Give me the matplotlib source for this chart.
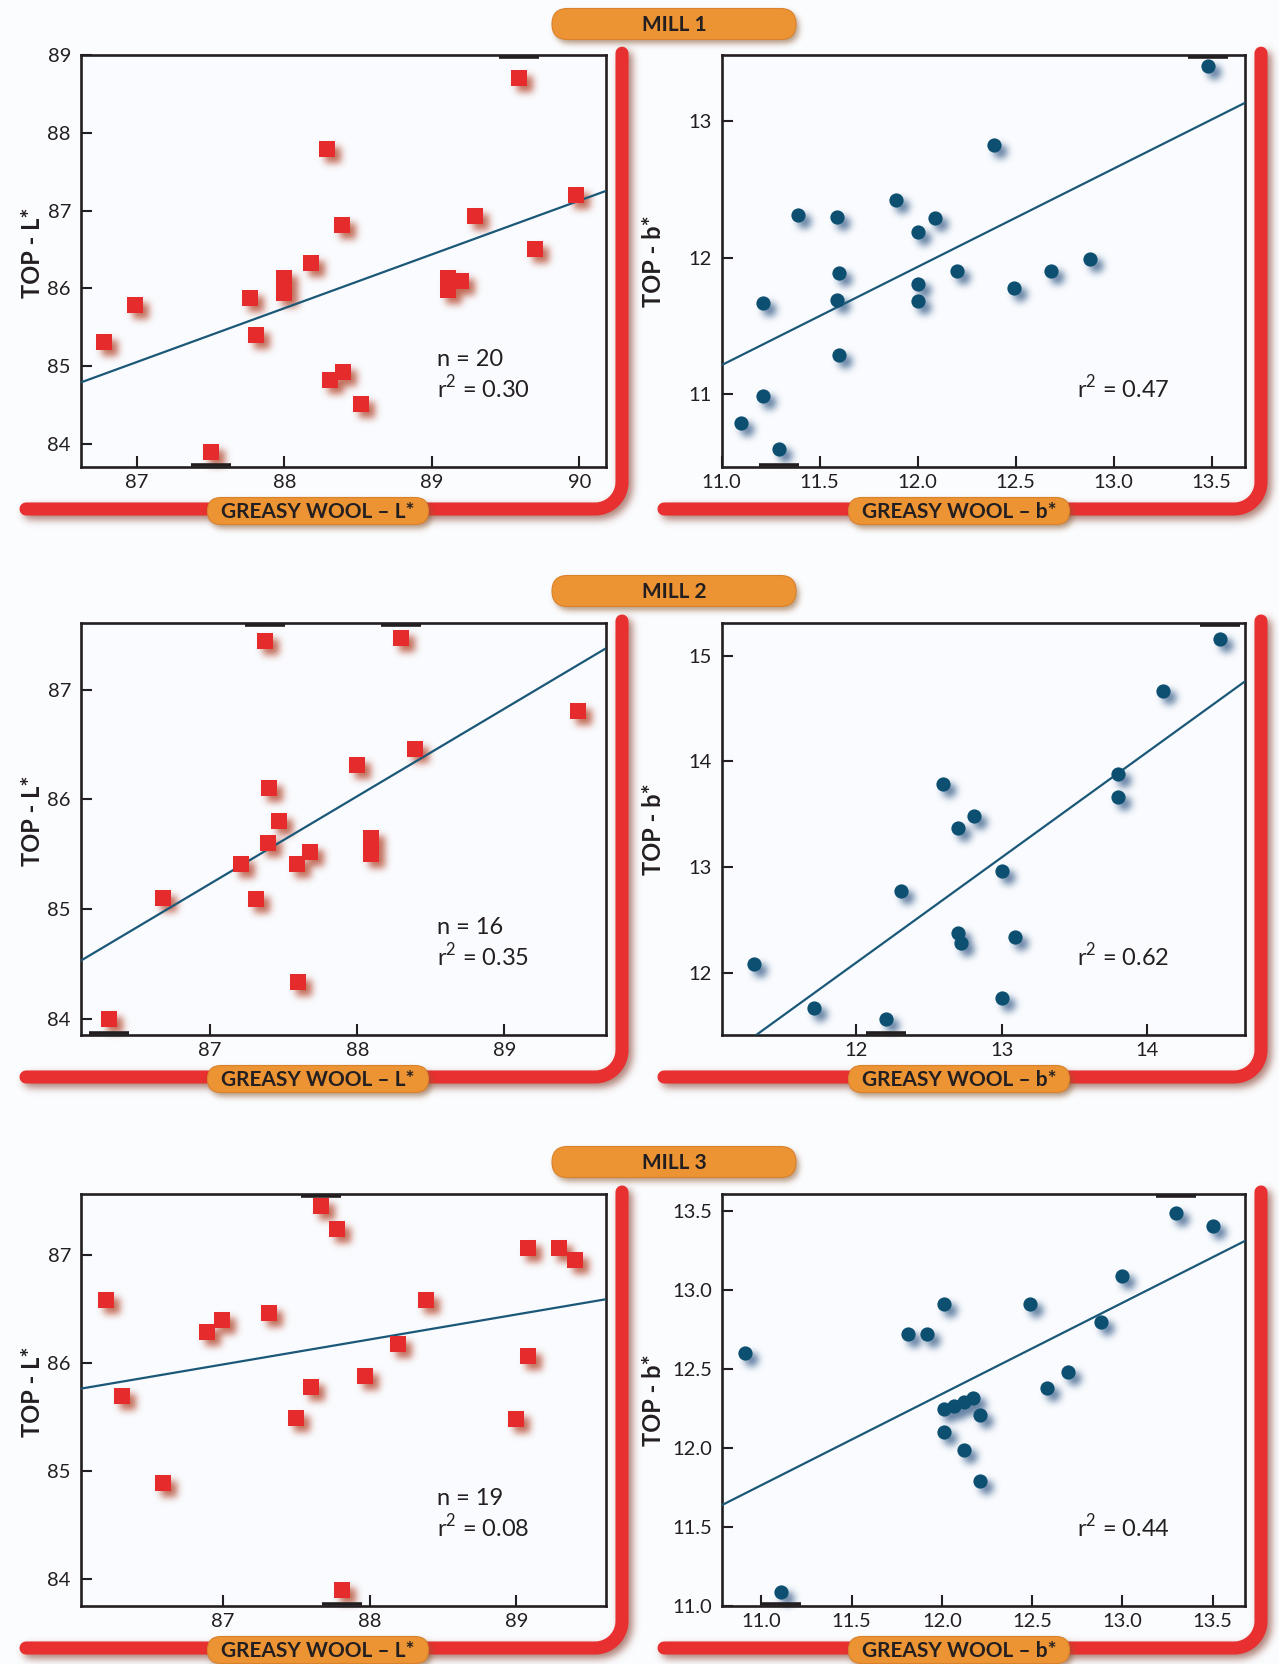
import numpy as np
import matplotlib
matplotlib.use("Agg")
import matplotlib.pyplot as plt
from matplotlib.patches import FancyBboxPatch
from matplotlib.transforms import offset_copy

plt.rcParams['font.family'] = ['Lato', 'DejaVu Sans']
plt.rcParams['mathtext.fontset'] = 'custom'
plt.rcParams['mathtext.rm'] = 'Lato'

# Greasy wool colour vs top colour, three mills
mill1_L_greasy = [86.78, 86.99, 87.50, 87.77, 87.81, 88.00, 88.00, 88.18, 88.29, 88.31,
                  88.39, 88.40, 88.52, 89.11, 89.11, 89.20, 89.29, 89.59, 89.70, 89.98]
mill1_L_top = [85.31, 85.78, 83.89, 85.87, 85.40, 86.13, 85.94, 86.33, 87.79, 84.82,
               86.81, 84.92, 84.51, 86.13, 85.98, 86.10, 86.93, 88.71, 86.50, 87.20]

mill1_b_greasy = [11.10, 11.21, 11.21, 11.29, 11.39, 11.59, 11.60, 11.59, 11.60, 11.89,
                  12.00, 12.00, 12.00, 12.09, 12.20, 12.39, 12.49, 12.68, 12.88, 13.48]
mill1_b_top = [10.79, 11.67, 10.99, 10.60, 12.31, 12.30, 11.89, 11.69, 11.29, 12.42,
               12.19, 11.81, 11.68, 12.29, 11.90, 12.82, 11.78, 11.90, 11.99, 13.40]

mill2_L_greasy = [86.31, 86.68, 87.21, 87.31, 87.37, 87.39, 87.40, 87.47, 87.59, 87.60,
                  87.68, 88.00, 88.09, 88.09, 88.30, 88.39, 89.50]
mill2_L_top = [84.00, 85.10, 85.41, 85.09, 87.45, 85.60, 86.10, 85.80, 85.41, 84.33,
               85.52, 86.31, 85.65, 85.50, 87.47, 86.46, 86.81]

mill2_b_greasy = [11.30, 11.71, 12.21, 12.31, 12.60, 12.70, 12.81, 12.70, 12.72, 13.00,
                  13.00, 13.09, 13.80, 13.80, 14.11, 14.50]
mill2_b_top = [12.08, 11.67, 11.56, 12.77, 13.79, 13.37, 13.48, 12.38, 12.28, 12.96,
               11.76, 12.34, 13.88, 13.66, 14.67, 15.16]

mill3_L_greasy = [86.20, 86.31, 86.59, 86.89, 86.99, 87.31, 87.50, 87.60, 87.67, 87.78,
                  87.81, 87.97, 88.19, 88.38, 89.00, 89.08, 89.08, 89.29, 89.40]
mill3_L_top = [86.59, 85.70, 84.89, 86.29, 86.40, 86.47, 85.49, 85.78, 87.46, 87.25,
               83.90, 85.88, 86.18, 86.59, 85.48, 87.07, 86.07, 87.07, 86.96]

mill3_b_greasy = [10.91, 11.11, 11.81, 11.92, 12.01, 12.01, 12.01, 12.07, 12.12, 12.12,
                  12.17, 12.21, 12.21, 12.49, 12.58, 12.70, 12.88, 13.00, 13.30, 13.50]
mill3_b_top = [12.60, 11.09, 12.72, 12.72, 12.91, 12.25, 12.10, 12.27, 12.29, 11.99,
               12.32, 12.21, 11.79, 12.91, 12.38, 12.48, 12.80, 13.09, 13.49, 13.41]

mill_names = ["MILL 1", "MILL 2", "MILL 3"]
n_samples = [20, 16, 19]
r2_L = [0.30, 0.35, 0.08]
r2_b = [0.47, 0.62, 0.44]

# tick values for each panel
xticks_L = [[87, 88, 89, 90], [87, 88, 89], [87, 88, 89]]
yticks_L = [[84, 85, 86, 87, 88, 89], [84, 85, 86, 87], [84, 85, 86, 87]]
xticks_b = [[11.0, 11.5, 12.0, 12.5, 13.0, 13.5], [12, 13, 14], [11.0, 11.5, 12.0, 12.5, 13.0, 13.5]]
yticks_b = [[11, 12, 13], [12, 13, 14, 15], [11.0, 11.5, 12.0, 12.5, 13.0, 13.5]]
fmt_b = [("%.1f", "%d"), ("%d", "%d"), ("%.1f", "%.1f")]

# axis ranges
xlim_L = [(86.62, 90.18), (86.12, 89.69), (86.03, 89.61)]
ylim_L = [(83.7, 89.0), (83.85, 87.61), (83.75, 87.57)]
xlim_b = [(11.0, 13.67), (11.08, 14.67), (10.78, 13.68)]
ylim_b = [(10.47, 13.48), (11.41, 15.31), (11.0, 13.61)]

W, H = 1279, 1664
RED = '#e7302f'
ORANGE = '#ec9334'
SQ_RED = '#e52b2b'
DOT_BLUE = '#0d4f70'
LINE_BLUE = '#1b5878'
INK = '#231f20'


def blur(a, sigma):
    r = max(1, int(3 * sigma))
    k = np.exp(-0.5 * (np.arange(-r, r + 1) / sigma) ** 2)
    k /= k.sum()
    out = np.zeros_like(a)
    p = np.pad(a, ((r, r), (0, 0)))
    for i, w in enumerate(k):
        out += w * p[i:i + a.shape[0], :]
    p = np.pad(out, ((0, 0), (r, r)))
    out2 = np.zeros_like(a)
    for i, w in enumerate(k):
        out2 += w * p[:, i:i + a.shape[1]]
    return out2


class Shadow:
    """agg filter: soft drop shadow made from the artist's alpha"""
    def __init__(self, sigma, dx, dy, color, alpha):
        self.sigma, self.dx, self.dy = sigma, dx, dy
        self.rgb = matplotlib.colors.to_rgb(color)
        self.alpha = alpha

    def __call__(self, im, dpi):
        pad = int(3 * self.sigma) + 2 + max(abs(self.dx), abs(self.dy))
        a = blur(np.pad(im[..., 3], pad), self.sigma)
        out = np.zeros(a.shape + (4,))
        out[..., :3] = self.rgb
        out[..., 3] = np.clip(a * self.alpha, 0, 1)
        return out, -pad + self.dx, -pad - self.dy


fig = plt.figure(figsize=(W / 100, H / 100), dpi=100, facecolor='#fbfcfe')

# overlay in pixel coordinates for the frames and labels
ov = fig.add_axes([0, 0, 1, 1], zorder=0)
ov.set_xlim(0, W)
ov.set_ylim(H, 0)
ov.axis('off')

col_x = [(80.7, 606.0), (721.7, 1245.0)]
row_y = [(55.2, 467.0), (623.0, 1035.0), (1194.0, 1606.0)]
bar_start = [26, 664]
pill_cx = [318, 959]


def red_frame(x_start, x_vert, y_bar, y_top):
    R = 27
    t = np.linspace(np.pi / 2, 0, 20)
    xs = [x_start, x_vert - R] + list(x_vert - R + R * np.cos(t)) + [x_vert, x_vert]
    ys = [y_bar, y_bar] + list(y_bar - R + R * np.sin(t)) + [y_bar - R, y_top]
    sh, = ov.plot(xs, ys, color='#7a3b2c', lw=9.4, solid_capstyle='round',
                  solid_joinstyle='round', zorder=1)
    sh.set_agg_filter(Shadow(4, 4, 4, '#8c4636', 0.7))
    ov.plot(xs, ys, color=RED, lw=9.4, solid_capstyle='round', solid_joinstyle='round', zorder=2)


def pill(cx, cy, w, h, text, size):
    box = dict(boxstyle="round,pad=0,rounding_size=%g" % (h / 2), mutation_aspect=1)
    s = FancyBboxPatch((cx - w / 2, cy - h / 2), w, h, fc='#8a5a2a', ec='none', zorder=3, **box)
    s.set_agg_filter(Shadow(3, 3, 4, '#8a5a30', 0.6))
    ov.add_patch(s)
    ov.add_patch(FancyBboxPatch((cx - w / 2, cy - h / 2), w, h, fc=ORANGE, ec='#d9822c',
                                lw=0.8, zorder=4, **box))
    ov.text(cx, cy + 1, text, ha='center', va='center', fontsize=size, fontweight='bold',
            color=INK, zorder=5)


def spine_marks(ax, xs, ys):
    # short heavy ticks on the spine where a point sits close to it
    y0, y1 = ax.get_ylim()
    span = y1 - y0
    for x, y in zip(xs, ys):
        if (y1 - y) / span < 0.06:
            tr = offset_copy(ax.transData, fig=fig, x=0, y=-2, units='dots')
            ax.plot([x], [y1], marker='_', ms=29, mew=2.6, color=INK, transform=tr, clip_on=False, zorder=5)
        if (y - y0) / span < 0.06:
            tr = offset_copy(ax.transData, fig=fig, x=0, y=2, units='dots')
            ax.plot([x], [y0], marker='_', ms=29, mew=2.6, color=INK, transform=tr, clip_on=False, zorder=5)


def panel(ax, xs, ys, kind, xlim, ylim, xt, yt, xfmt, yfmt, ylabel):
    ax.set_facecolor('#f9fbfe')
    ax.set_xlim(*xlim)
    ax.set_ylim(*ylim)
    for s in ax.spines.values():
        s.set_linewidth(1.9)
        s.set_color(INK)
    ax.set_xticks(xt)
    ax.set_yticks(yt)
    ax.set_xticklabels([xfmt % v for v in xt])
    ax.set_yticklabels([yfmt % v for v in yt])
    ax.tick_params(direction='in', length=8, width=1.5, color=INK, labelsize=14.5,
                   labelcolor=INK, top=False, right=False)
    ax.tick_params(axis='x', pad=5)
    ax.tick_params(axis='y', pad=7)

    # least squares line over the whole x range
    m, c = np.polyfit(xs, ys, 1)
    lx = np.array(xlim)
    ax.plot(lx, m * lx + c, color=LINE_BLUE, lw=1.6, zorder=3)

    if kind == 'L':
        mk, size, col, shc = 's', 118, SQ_RED, '#b4482f'
    else:
        mk, size, col, shc = 'o', 105, DOT_BLUE, '#3a5f8a'
    sh = ax.scatter(xs, ys, s=size, marker=mk, c=shc, linewidths=0, clip_on=False, zorder=2)
    sh.set_agg_filter(Shadow(2.6, 3, 3, shc, 0.9))
    ax.scatter(xs, ys, s=size, marker=mk, c=col, linewidths=0, clip_on=False, zorder=4)
    spine_marks(ax, xs, ys)

    ax.set_ylabel(ylabel, fontsize=17, fontweight='bold', color=INK)


def stat_text(ax, x, y, s):
    ax.text(x, y, s, transform=ax.transAxes, fontsize=17, color=INK, va='center')


data_L = [(mill1_L_greasy, mill1_L_top), (mill2_L_greasy, mill2_L_top), (mill3_L_greasy, mill3_L_top)]
data_b = [(mill1_b_greasy, mill1_b_top), (mill2_b_greasy, mill2_b_top), (mill3_b_greasy, mill3_b_top)]

for i in range(3):
    top, bot = row_y[i]
    y_bar = bot + 42

    for j in range(2):
        red_frame(bar_start[j], col_x[j][1] + 16, y_bar, top - 2)
        label = "GREASY WOOL \u2013 L*" if j == 0 else "GREASY WOOL \u2013 b*"
        pill(pill_cx[j], y_bar + 2, 221, 27, label, 15)

    pill(674, [24, 591, 1162][i], 244, 31, mill_names[i], 15)

    (l0, l1), (r0, r1) = col_x
    axL = fig.add_axes([l0 / W, 1 - bot / H, (l1 - l0) / W, (bot - top) / H], zorder=2)
    panel(axL, data_L[i][0], data_L[i][1], 'L', xlim_L[i], ylim_L[i],
          xticks_L[i], yticks_L[i], "%d", "%d", "TOP - L*")
    axL.yaxis.set_label_coords(-0.07, 0.52)
    stat_text(axL, 0.678, 0.262, "n = %d" % n_samples[i])
    stat_text(axL, 0.678, 0.192, "r$^{\\mathrm{2}}$ = %.2f" % r2_L[i])

    axR = fig.add_axes([r0 / W, 1 - bot / H, (r1 - r0) / W, (bot - top) / H], zorder=2)
    panel(axR, data_b[i][0], data_b[i][1], 'b', xlim_b[i], ylim_b[i],
          xticks_b[i], yticks_b[i], fmt_b[i][0], fmt_b[i][1], "TOP - b*")
    axR.yaxis.set_label_coords(-0.108, 0.50)
    stat_text(axR, 0.679, 0.192, "r$^{\\mathrm{2}}$ = %.2f" % r2_b[i])

fig.savefig("out.png", dpi=100, facecolor=fig.get_facecolor())
